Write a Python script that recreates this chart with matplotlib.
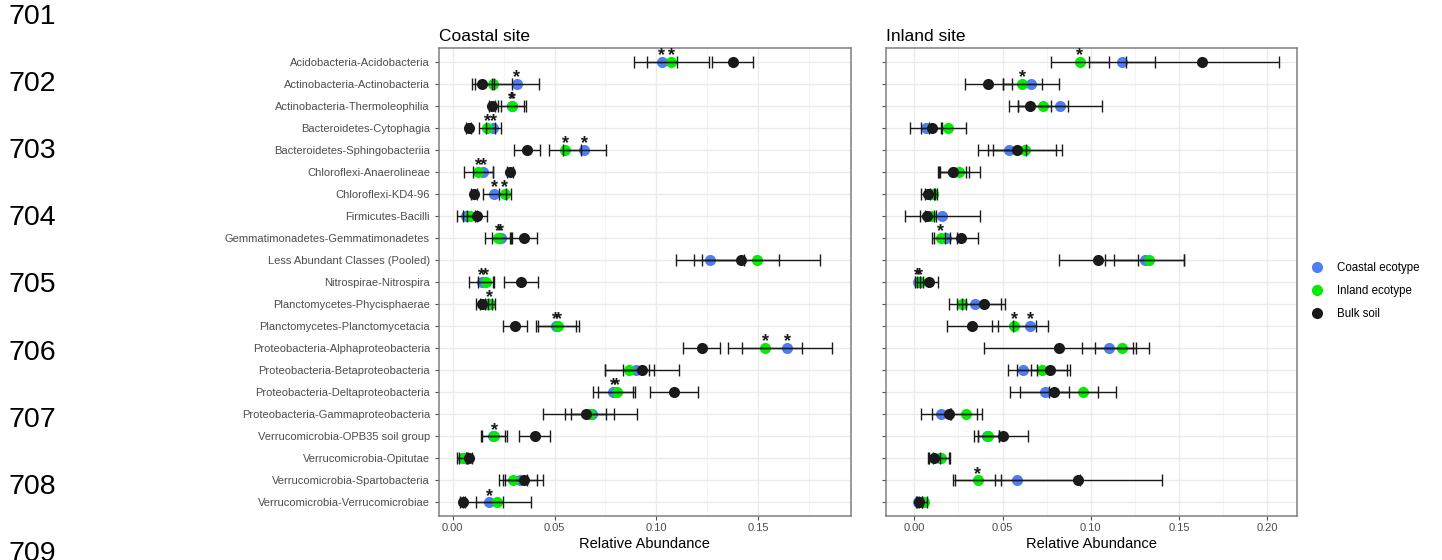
import matplotlib
matplotlib.use('Agg')
import matplotlib.pyplot as plt
from matplotlib.lines import Line2D
from matplotlib.ticker import MultipleLocator

plt.rcParams['font.family'] = ['Liberation Sans', 'DejaVu Sans']

classes = ['Acidobacteria-Acidobacteria', 'Actinobacteria-Actinobacteria',
           'Actinobacteria-Thermoleophilia', 'Bacteroidetes-Cytophagia',
           'Bacteroidetes-Sphingobacteriia', 'Chloroflexi-Anaerolineae',
           'Chloroflexi-KD4-96', 'Firmicutes-Bacilli',
           'Gemmatimonadetes-Gemmatimonadetes', 'Less Abundant Classes (Pooled)',
           'Nitrospirae-Nitrospira', 'Planctomycetes-Phycisphaerae',
           'Planctomycetes-Planctomycetacia', 'Proteobacteria-Alphaproteobacteria',
           'Proteobacteria-Betaproteobacteria', 'Proteobacteria-Deltaproteobacteria',
           'Proteobacteria-Gammaproteobacteria', 'Verrucomicrobia-OPB35 soil group',
           'Verrucomicrobia-Opitutae', 'Verrucomicrobia-Spartobacteria',
           'Verrucomicrobia-Verrucomicrobiae']

# coastal site
c_coastal = [0.1026, 0.0314, 0.0293, 0.0200, 0.0646, 0.0150, 0.0204, 0.0065, 0.0237, 0.1263, 0.0142,
             0.0165, 0.0507, 0.1642, 0.0900, 0.0788, 0.0685, 0.0200, 0.0052, 0.0330, 0.0180]
c_coastal_se = [0.0074, 0.0110, 0.0055, 0.0036, 0.0105, 0.0049, 0.0057, 0.0043, 0.0043, 0.0168, 0.0060,
                0.0030, 0.0100, 0.0220, 0.0062, 0.0098, 0.0106, 0.0055, 0.0020, 0.0085, 0.0065]
c_inland = [0.1073, 0.0200, 0.0290, 0.0170, 0.0553, 0.0126, 0.0257, 0.0085, 0.0224, 0.1492, 0.0162,
            0.0183, 0.0518, 0.1533, 0.0867, 0.0805, 0.0674, 0.0204, 0.0049, 0.0298, 0.0219]
c_inland_se = [0.0185, 0.0090, 0.0068, 0.0040, 0.0079, 0.0072, 0.0028, 0.0033, 0.0065, 0.0310, 0.0036,
               0.0026, 0.0100, 0.0180, 0.0120, 0.0090, 0.0230, 0.0063, 0.0025, 0.0069, 0.0168]
c_bulk = [0.1374, 0.0142, 0.0193, 0.0080, 0.0365, 0.0281, 0.0106, 0.0121, 0.0350, 0.1413, 0.0334,
          0.0146, 0.0306, 0.1222, 0.0929, 0.1088, 0.0653, 0.0402, 0.0080, 0.0350, 0.0049]
c_bulk_se = [0.0099, 0.0049, 0.0015, 0.0012, 0.0065, 0.0015, 0.0015, 0.0050, 0.0065, 0.0190, 0.0083,
             0.0030, 0.0060, 0.0090, 0.0183, 0.0118, 0.0101, 0.0074, 0.0015, 0.0095, 0.0012]
c_coastal_star = [0, 1, 2, 3, 4, 5, 6, 8, 10, 12, 13, 15, 20]
c_inland_star = [0, 2, 3, 4, 5, 6, 8, 10, 11, 12, 13, 15, 17]

# inland site
i_coastal = [0.1177, 0.0662, 0.0825, 0.0064, 0.0538, 0.0221, 0.0085, 0.0158, 0.0179, 0.1304, 0.0019,
             0.0345, 0.0657, 0.1104, 0.0615, 0.0738, 0.0153, 0.0410, 0.0145, 0.0581, 0.0019]
i_coastal_se = [0.0187, 0.0160, 0.0240, 0.0087, 0.0094, 0.0075, 0.0025, 0.0213, 0.0066, 0.0221, 0.0015,
                0.0149, 0.0098, 0.0153, 0.0083, 0.0140, 0.0051, 0.0070, 0.0060, 0.0360, 0.0010]
i_inland = [0.0938, 0.0613, 0.0730, 0.0190, 0.0626, 0.0255, 0.0108, 0.0094, 0.0151, 0.1330, 0.0032,
            0.0270, 0.0566, 0.1177, 0.0723, 0.0953, 0.0296, 0.0420, 0.0153, 0.0360, 0.0057]
i_inland_se = [0.0164, 0.0109, 0.0141, 0.0106, 0.0211, 0.0117, 0.0020, 0.0032, 0.0053, 0.0198, 0.0015,
               0.0025, 0.0123, 0.0153, 0.0143, 0.0192, 0.0090, 0.0060, 0.0045, 0.0130, 0.0015]
i_bulk = [0.1632, 0.0419, 0.0658, 0.0098, 0.0581, 0.0221, 0.0079, 0.0074, 0.0266, 0.1043, 0.0083,
          0.0394, 0.0328, 0.0817, 0.0770, 0.0792, 0.0198, 0.0502, 0.0113, 0.0930, 0.0028]
i_bulk_se = [0.0434, 0.0134, 0.0119, 0.0060, 0.0219, 0.0089, 0.0038, 0.0040, 0.0094, 0.0225, 0.0049,
             0.0121, 0.0145, 0.0421, 0.0110, 0.0247, 0.0157, 0.0140, 0.0034, 0.0475, 0.0015]
i_coastal_star = [10, 12]
i_inland_star = [0, 1, 8, 10, 12, 19]

line_numbers = ['701', '702', '703', '704', '705', '706', '707', '708', '709']

BLUE = '#4F7DF3'
GREEN = '#00EE00'
BLACK = '#1A1A1A'

fig = plt.figure(figsize=(14.42, 5.6), dpi=100)
ax1 = fig.add_axes([0.3044, 0.0791, 0.2855, 0.8346])
ax2 = fig.add_axes([0.6144, 0.0791, 0.2850, 0.8346])

ypos = list(range(len(classes)))


def panel(ax, series, xlim, title):
    for vals, errs, col, stars in series:
        ax.plot(vals, ypos, 'o', color=col, ms=8, mec='none', zorder=3)
        ax.errorbar(vals, ypos, xerr=errs, fmt='none', ecolor=BLACK, elinewidth=1.0,
                    capsize=4.5, capthick=1.0, zorder=4)
        for r in stars:
            ax.text(vals[r], r - 0.28, '*', ha='center', va='center', fontsize=13,
                    fontweight='bold', color=BLACK, zorder=5)
    ax.set_xlim(*xlim)
    ax.set_ylim(len(classes) - 0.4, -0.6)
    ax.set_yticks(ypos)
    ax.xaxis.set_major_locator(MultipleLocator(0.05))
    ax.xaxis.set_minor_locator(MultipleLocator(0.025))
    ax.grid(which='major', color='#EBEBEB', lw=1.0, zorder=0)
    ax.grid(which='minor', axis='x', color='#F2F2F2', lw=0.6, zorder=0)
    ax.set_axisbelow(True)
    for s in ax.spines.values():
        s.set_color('#7F7F7F')
        s.set_linewidth(1.1)
    ax.tick_params(axis='both', which='major', length=3, color='#4D4D4D',
                   labelcolor='#4D4D4D', labelsize=8)
    ax.tick_params(axis='x', which='major', pad=2)
    ax.tick_params(axis='x', which='minor', length=0)
    ax.set_xlabel('Relative Abundance', fontsize=10.5, color='black', labelpad=3)
    ax.set_title(title, loc='left', fontsize=12.5, pad=5)


panel(ax1, [(c_coastal, c_coastal_se, BLUE, c_coastal_star),
            (c_inland, c_inland_se, GREEN, c_inland_star),
            (c_bulk, c_bulk_se, BLACK, [])], (-0.0067, 0.1953), 'Coastal site')
ax1.set_yticklabels(classes)

panel(ax2, [(i_coastal, i_coastal_se, BLUE, i_coastal_star),
            (i_inland, i_inland_se, GREEN, i_inland_star),
            (i_bulk, i_bulk_se, BLACK, [])], (-0.016, 0.2167), 'Inland site')
ax2.set_yticklabels([])

ax1.set_xticks([0.0, 0.05, 0.10, 0.15])
ax1.set_xticklabels(['0.00', '0.05', '0.10', '0.15'])
ax2.set_xticks([0.0, 0.05, 0.10, 0.15, 0.20])
ax2.set_xticklabels(['0.00', '0.05', '0.10', '0.15', '0.20'])

handles = [Line2D([], [], ls='none', marker='o', ms=8, mec='none', color=c)
           for c in (BLUE, GREEN, BLACK)]
fig.legend(handles, ['Coastal ecotype', 'Inland ecotype', 'Bulk soil'],
           loc='center left', bbox_to_anchor=(0.901, 0.48), frameon=False,
           fontsize=8.3, handletextpad=1.2, labelspacing=0.95, handlelength=1.2)

for k, num in enumerate(line_numbers):
    fig.text(8 / 1442, 1 - (17 + 67.1 * k) / 560, num, fontsize=20.5,
             ha='left', va='center', color='black')

fig.savefig('out.png', dpi=100)
